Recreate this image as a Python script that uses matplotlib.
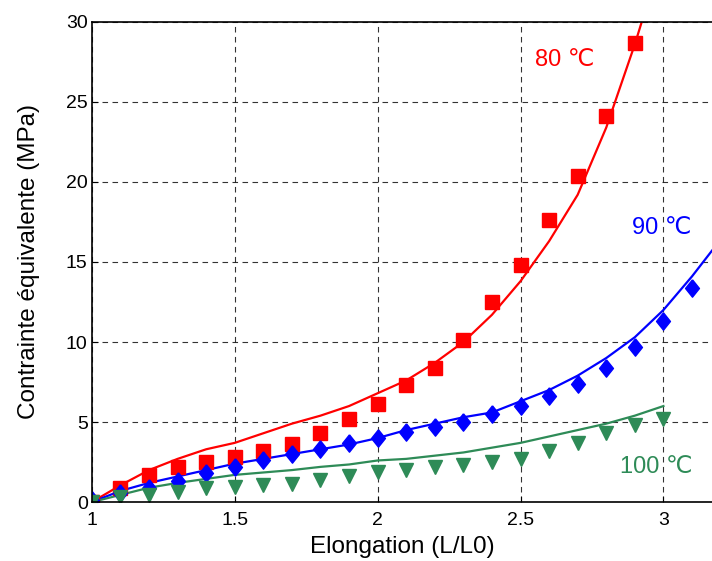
import numpy as np
import matplotlib
matplotlib.use('Agg')
import matplotlib.pyplot as plt

plt.rcParams['font.family'] = ['Liberation Sans', 'DejaVu Sans']

# measured points
x_pts = [1.0, 1.1, 1.2, 1.3, 1.4, 1.5, 1.6, 1.7, 1.8, 1.9, 2.0,
         2.1, 2.2, 2.3, 2.4, 2.5, 2.6, 2.7, 2.8, 2.9, 3.0, 3.1]
red_pts = [0.0, 0.9, 1.7, 2.2, 2.5, 2.8, 3.2, 3.6, 4.3, 5.2, 6.1,
           7.3, 8.4, 10.1, 12.5, 14.8, 17.6, 20.4, 24.1, 28.7]
blue_pts = [0.1, 0.55, 0.9, 1.3, 1.8, 2.2, 2.6, 3.0, 3.3, 3.7, 4.0,
            4.4, 4.7, 5.0, 5.5, 6.0, 6.6, 7.4, 8.4, 9.7, 11.3, 13.4]
green_pts = [0.0, 0.3, 0.45, 0.65, 0.85, 0.95, 1.05, 1.15, 1.35, 1.6, 1.85,
             2.0, 2.2, 2.3, 2.5, 2.7, 3.2, 3.7, 4.3, 4.8, 5.2]

# model curves
x_red_fit = [1.0, 1.1, 1.2, 1.3, 1.4, 1.5, 1.6, 1.7, 1.8, 1.9, 2.0,
             2.1, 2.2, 2.3, 2.4, 2.5, 2.6, 2.7, 2.8, 2.9, 2.95]
red_fit = [0.0, 1.05, 2.0, 2.7, 3.3, 3.7, 4.3, 4.9, 5.4, 6.0, 6.8,
           7.6, 8.7, 10.0, 11.7, 13.8, 16.3, 19.2, 23.4, 28.6, 31.5]
x_blue_fit = [1.0, 1.1, 1.2, 1.3, 1.4, 1.5, 1.6, 1.7, 1.8, 1.9, 2.0,
              2.1, 2.2, 2.3, 2.4, 2.5, 2.6, 2.7, 2.8, 2.9, 3.0, 3.1, 3.2]
blue_fit = [0.0, 0.7, 1.2, 1.6, 2.0, 2.4, 2.7, 3.0, 3.3, 3.6, 4.0,
            4.5, 4.9, 5.3, 5.6, 6.3, 7.0, 7.9, 9.0, 10.3, 12.0, 14.1, 16.4]
x_green_fit = [1.0, 1.1, 1.2, 1.3, 1.4, 1.5, 1.6, 1.7, 1.8, 1.9, 2.0,
               2.1, 2.2, 2.3, 2.4, 2.5, 2.6, 2.7, 2.8, 2.9, 3.0]
green_fit = [0.0, 0.45, 0.9, 1.2, 1.45, 1.7, 1.85, 2.0, 2.2, 2.35, 2.6,
             2.7, 2.9, 3.1, 3.4, 3.7, 4.1, 4.5, 4.9, 5.4, 6.0]

red = '#ff0000'
blue = '#0000ff'
green = '#2e8b57'

# taller diamond, like the matlab one
diamond = [(0, 1), (0.8, 0), (0, -1), (-0.8, 0), (0, 1)]


def main():
    fig = plt.figure(figsize=(7.12, 5.61), dpi=100)
    ax = fig.add_axes([0.129, 0.105, 0.871, 0.856])

    ax.grid(True, color='black', linestyle=(0, (5, 4)), linewidth=0.8, alpha=0.8)
    ax.set_axisbelow(True)

    ax.plot(x_red_fit, red_fit, color=red, linewidth=1.6)
    ax.plot(x_blue_fit, blue_fit, color=blue, linewidth=1.6)
    ax.plot(x_green_fit, green_fit, color=green, linewidth=1.6)

    ax.plot(x_pts[:len(red_pts)], red_pts, 's', color=red, markersize=9.5, linestyle='none')
    ax.plot(x_pts[:len(blue_pts)], blue_pts, marker=diamond, color=blue, markersize=12.5, linestyle='none')
    ax.plot(x_pts[:len(green_pts)], green_pts, 'v', color=green, markersize=10, linestyle='none')

    ax.text(2.655, 27.6, '80 ℃', color=red, fontsize=17, ha='center', va='center')
    ax.text(2.995, 17.1, '90 ℃', color=blue, fontsize=17, ha='center', va='center')
    ax.text(2.975, 2.2, '100 ℃', color=green, fontsize=17, ha='center', va='center')

    ax.set_xlim(1, 3.17)
    ax.set_ylim(0, 30)
    ax.set_xticks([1, 1.5, 2, 2.5, 3])
    ax.set_xticklabels(['1', '1.5', '2', '2.5', '3'])
    ax.set_yticks([0, 5, 10, 15, 20, 25, 30])
    ax.tick_params(direction='in', labelsize=14, length=4)
    ax.tick_params(axis='x', pad=7)
    ax.tick_params(axis='y', pad=3)
    ax.spines['right'].set_visible(False)
    for s in ['left', 'bottom', 'top']:
        ax.spines[s].set_linewidth(1.2)

    ax.set_xlabel('Elongation (L/L0)', fontsize=17.5, labelpad=5)
    ax.set_ylabel('Contrainte équivalente (MPa)', fontsize=17.5, labelpad=19)

    fig.savefig('out.png', dpi=100)


if __name__ == '__main__':
    main()
